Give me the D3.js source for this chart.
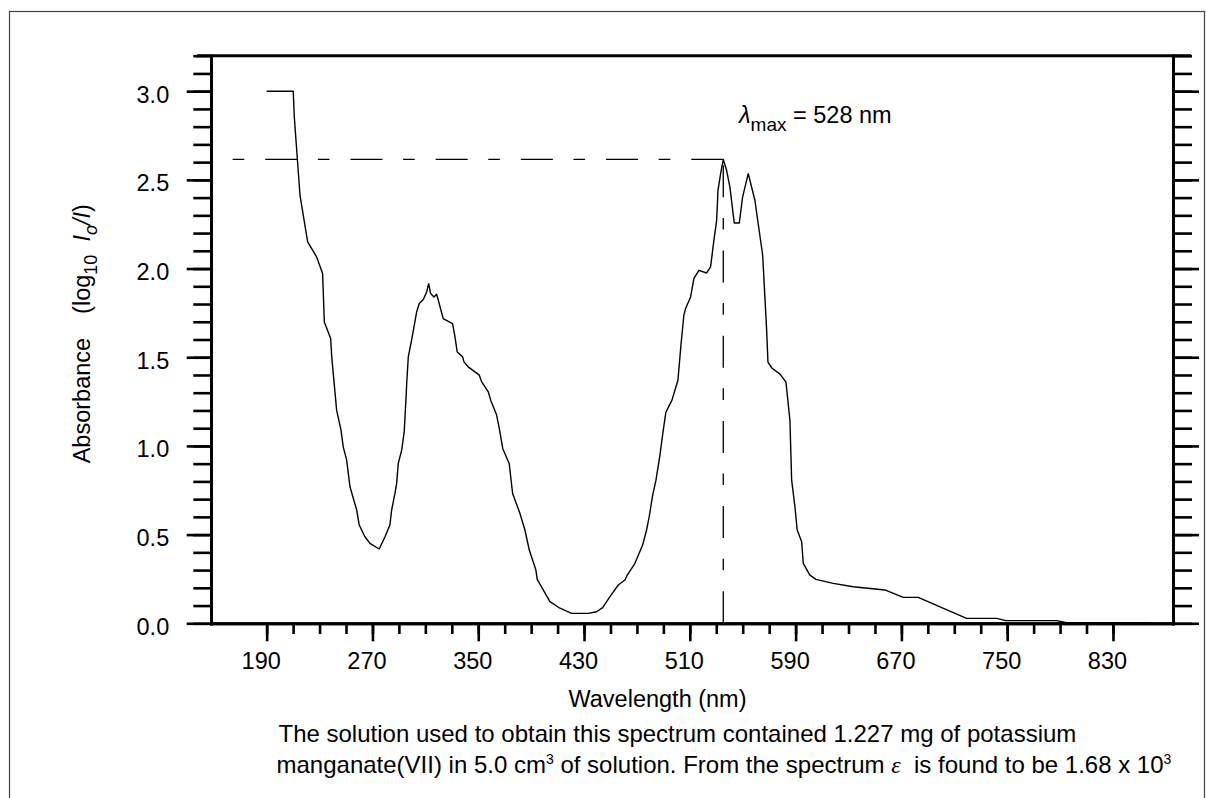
<!DOCTYPE html>
<html>
<head>
<meta charset="utf-8">
<script src="https://cdn.jsdelivr.net/npm/d3@7"></script>
<style>
  html, body { margin: 0; padding: 0; background: #fff; }
  svg { display: block; }
  text { font-family: "Liberation Sans", Arial, Helvetica, sans-serif; fill: #000; white-space: pre; }
</style>
</head>
<body>
<svg id="chart" width="1206" height="798"></svg>
<script>
// ---- data ----
const wavelengths = [
  190, 210.1, 210.9, 215.2, 221.0, 227.8, 232.3, 233.6, 238.4, 239.2,
  242.9, 246.2, 247.9, 250.5, 253.0, 258.1, 260.0, 264.3, 268.1, 275.1,
  279.5, 283.2, 284.5, 287.0, 288.3, 289.5, 292.1, 294.0, 295.3, 295.9,
  297.1, 299.6, 303.4, 305.4, 308.4, 311.0, 312.5, 314.0, 316.5, 318.5,
  319.8, 323.5, 330.6, 332.4, 334.1, 338.2, 339.2, 342.4, 350.8, 352.6,
  357.6, 359.4, 363.9, 366.4, 368.5, 373.4, 376.0, 381.5, 385.3, 388.6,
  393.6, 394.6, 404.2, 411.8, 420.6, 433.2, 439.5, 444.1, 449.6, 455.9,
  460.9, 462.7, 468.5, 474.3, 477.3, 479.3, 481.9, 484.4, 487.4, 489.7,
  491.9, 496.5, 501.0, 503.3, 505.5, 506.8, 510.6, 513.1, 516.9, 522.7,
  525.7, 528.2, 530.3, 531.3, 533.3, 535.3, 537.8, 540.3, 543.6, 547.4,
  549.9, 554.2, 559.2, 565.1, 568.1, 569.1, 572.2, 578.2, 582.7, 585.7,
  587.0, 589.5, 591.2, 594.6, 595.8, 600.8, 605.4, 618.4, 633.6, 657.5,
  671.4, 682.7, 719.3, 742.0, 749.0, 787.4, 795.0, 858.0
];
const absorbance = [
  3.00, 3.00, 2.854, 2.413, 2.150, 2.065, 1.972, 1.699, 1.606, 1.502,
  1.202, 1.089, 0.995, 0.920, 0.770, 0.638, 0.554, 0.488, 0.451, 0.419,
  0.488, 0.554, 0.638, 0.732, 0.789, 0.901, 0.976, 1.079, 1.258, 1.352,
  1.502, 1.596, 1.755, 1.803, 1.825, 1.868, 1.915, 1.859, 1.840, 1.855,
  1.821, 1.718, 1.690, 1.615, 1.530, 1.502, 1.474, 1.446, 1.399, 1.361,
  1.305, 1.258, 1.174, 1.079, 0.986, 0.901, 0.732, 0.620, 0.526, 0.413,
  0.300, 0.248, 0.122, 0.085, 0.056, 0.056, 0.065, 0.088, 0.150, 0.216,
  0.244, 0.272, 0.338, 0.441, 0.526, 0.601, 0.723, 0.807, 0.948, 1.077,
  1.190, 1.258, 1.370, 1.568, 1.737, 1.775, 1.840, 1.944, 1.990, 1.975,
  2.009, 2.159, 2.272, 2.441, 2.535, 2.615, 2.554, 2.460, 2.257, 2.257,
  2.403, 2.535, 2.385, 2.075, 1.652, 1.472, 1.438, 1.405, 1.360, 1.145,
  0.807, 0.657, 0.526, 0.460, 0.338, 0.272, 0.248, 0.225, 0.206, 0.188,
  0.146, 0.146, 0.028, 0.028, 0.015, 0.015, 0.003, 0.003
];
const xTickLabels = [190, 270, 350, 430, 510, 590, 670, 750, 830];
const xMinorTicks = [190,210,230,250,270,290,310,330,350,370,390,410,430,450,470,490,510,530,550,570,590,610,630,650,670,690,710,730,750,770,790,810,830];
const yTickLabels = [0.0, 0.5, 1.0, 1.5, 2.0, 2.5, 3.0];
const yMinorTicks = [0,0.1,0.2,0.3,0.4,0.5,0.6,0.7,0.8,0.9,1.0,1.1,1.2,1.3,1.4,1.5,1.6,1.7,1.8,1.9,2.0,2.1,2.2,2.3,2.4,2.5,2.6,2.7,2.8,2.9,3.0,3.1,3.2];
const peakWavelength = 535.3;   // where the drawn λmax marker sits
const peakAbsorbance = 2.615;
const lambdaMaxLabel = "528 nm";

// ---- layout ----
const pL = 211, pR = 1173, pT = 55.7, pB = 623.3;
const FS = "23.5px";
const svg = d3.select("#chart");

// outer frame
svg.append("rect").attr("x", 9.5).attr("y", 11.5).attr("width", 1195).attr("height", 800)
  .attr("fill", "none").attr("stroke", "#444").attr("stroke-width", 1.2);

const x = d3.scaleLinear().domain([147.9, 875.4]).range([pL, pR]);
const y = d3.scaleLinear().domain([0, 3.2]).range([pB, pT]);

function styleAxis(g) {
  g.select(".domain").attr("stroke", "#000").attr("stroke-width", 3).attr("stroke-linecap", "square");
  g.selectAll(".tick line").attr("stroke", "#000").attr("stroke-width", 2.6);
  g.selectAll("text").style("font-size", FS).attr("fill", "#000")
    .attr("font-family", "Liberation Sans, Arial, sans-serif");
}

// left axis: minor + major
svg.append("g").attr("transform", `translate(${pL},0)`)
  .call(d3.axisLeft(y).tickValues(yMinorTicks).tickSize(17.7).tickSizeOuter(0).tickFormat(""))
  .call(styleAxis);
const gl = svg.append("g").attr("transform", `translate(${pL},0)`)
  .call(d3.axisLeft(y).tickValues(yTickLabels).tickSize(24.3).tickSizeOuter(0).tickPadding(17.5).tickFormat(d3.format(".1f")))
  .call(styleAxis);
gl.selectAll("text").attr("dy", "0").attr("y", 11);

// right axis
svg.append("g").attr("transform", `translate(${pR},0)`)
  .call(d3.axisRight(y).tickValues(yMinorTicks).tickSize(19).tickSizeOuter(0).tickFormat(""))
  .call(styleAxis);
svg.append("g").attr("transform", `translate(${pR},0)`)
  .call(d3.axisRight(y).tickValues(yTickLabels).tickSize(26).tickSizeOuter(0).tickFormat(""))
  .call(styleAxis);

// bottom axis
svg.append("g").attr("transform", `translate(0,${pB})`)
  .call(d3.axisBottom(x).tickValues(xMinorTicks).tickSize(10.7).tickSizeOuter(0).tickFormat(""))
  .call(styleAxis);
const gb = svg.append("g").attr("transform", `translate(0,${pB})`)
  .call(d3.axisBottom(x).tickValues(xTickLabels).tickSize(18).tickSizeOuter(0).tickFormat(d3.format("d")))
  .call(styleAxis);
gb.selectAll("text").attr("dy", "0").attr("y", 45.7).attr("dx", -6);

// top border line
svg.append("line").attr("x1", 197).attr("x2", 1191).attr("y1", pT).attr("y2", pT)
  .attr("stroke", "#000").attr("stroke-width", 3);

// spectrum
const pts = wavelengths.map((w, i) => [w, absorbance[i]]);
svg.append("path").datum(pts)
  .attr("fill", "none").attr("stroke", "#000").attr("stroke-width", 1.4)
  .attr("stroke-linejoin", "round")
  .attr("d", d3.line().x(d => x(d[0])).y(d => y(d[1])));

// λmax guide lines
const dash = "32,21,11.6,20.6";
svg.append("line").attr("x1", x(peakWavelength)).attr("y1", y(peakAbsorbance))
  .attr("x2", pL).attr("y2", y(peakAbsorbance))
  .attr("stroke", "#000").attr("stroke-width", 1.3).attr("stroke-dasharray", dash);
svg.append("line").attr("x1", x(peakWavelength)).attr("y1", pB)
  .attr("x2", x(peakWavelength)).attr("y2", y(peakAbsorbance))
  .attr("stroke", "#000").attr("stroke-width", 1.3).attr("stroke-dasharray", dash);

// λmax label
const lt = svg.append("text").attr("x", 739).attr("y", 123.3).style("font-size", FS);
lt.append("tspan").attr("font-style", "italic").text("λ");
lt.append("tspan").attr("dy", 8).style("font-size", "19px").text("max");
lt.append("tspan").attr("dy", -8).text(" = " + lambdaMaxLabel);

// axis titles
svg.append("text").attr("x", 657.5).attr("y", 706.7).attr("text-anchor", "middle")
  .style("font-size", FS).text("Wavelength (nm)");

const yt = svg.append("text").attr("transform", "translate(90,463.3) rotate(-90)")
  .style("font-size", FS);
yt.append("tspan").text("Absorbance");
yt.append("tspan").attr("dx", 24).text("(log");
yt.append("tspan").attr("dy", 7).style("font-size", "18px").text("10");
yt.append("tspan").attr("dy", -7).text("  ");
yt.append("tspan").attr("font-style", "italic").text("I");
yt.append("tspan").attr("dy", 7).attr("font-style", "italic").style("font-size", "18px").text("o");
yt.append("tspan").attr("dy", -7).attr("font-style", "italic").text("/I");
yt.append("tspan").text(")");

// caption
svg.append("text").attr("x", 278.5).attr("y", 741.7).style("font-size", "24px")
  .text("The solution used to obtain this spectrum contained 1.227 mg of potassium");
const c2 = svg.append("text").attr("x", 276.5).attr("y", 773.3).style("font-size", "24px");
c2.append("tspan").text("manganate(VII) in 5.0 cm");
c2.append("tspan").attr("dy", -9).style("font-size", "14px").text("3");
c2.append("tspan").attr("dy", 9).text(" of solution. From the spectrum ");
c2.append("tspan").attr("font-style", "italic").attr("font-family", "Liberation Serif, serif").text("ε");
c2.append("tspan").text("  is found to be 1.68 x 10");
c2.append("tspan").attr("dy", -9).style("font-size", "14px").text("3");
</script>
</body>
</html>
